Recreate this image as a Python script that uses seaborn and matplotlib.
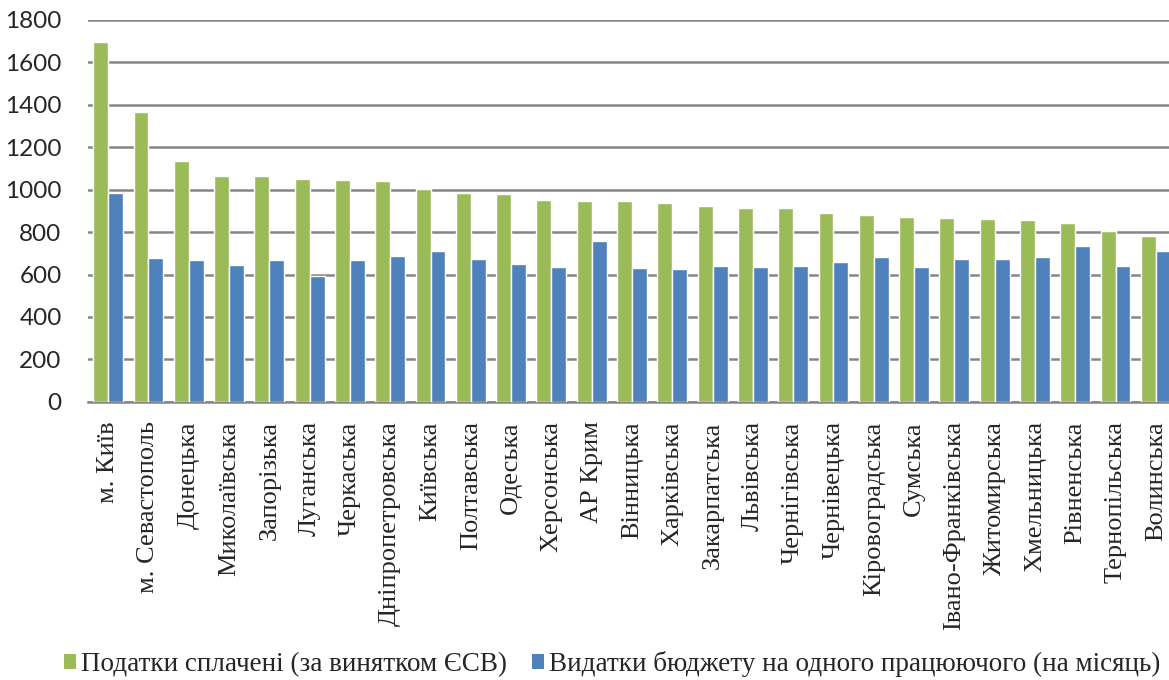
import pandas as pd
import matplotlib.pyplot as plt
import seaborn as sns
from matplotlib.patches import Patch

# --- DATA ---
regions = ['м. Київ', 'м. Севастополь', 'Донецька', 'Миколаївська', 'Запорізька',
           'Луганська', 'Черкаська', 'Дніпропетровська', 'Київська', 'Полтавська',
           'Одеська', 'Херсонська', 'АР Крим', 'Вінницька', 'Харківська',
           'Закарпатська', 'Львівська', 'Чернігівська', 'Чернівецька', 'Кіровоградська',
           'Сумська', 'Івано-Франківська', 'Житомирська', 'Хмельницька', 'Рівненська',
           'Тернопільська', 'Волинська']
taxes_paid = [1695, 1364, 1136, 1065, 1062, 1048, 1044, 1041, 1001, 982,
              979, 949, 946, 945, 938, 922, 912, 912, 891, 879,
              871, 868, 863, 858, 841, 803, 780]
budget_spend = [985, 676, 667, 645, 667, 593, 667, 687, 709, 673,
                651, 635, 759, 632, 626, 641, 634, 641, 657, 681,
                635, 674, 674, 681, 735, 638, 712]
series_names = ['Податки сплачені (за винятком ЄСВ)',
                'Видатки бюджету на одного працюючого (на місяць)']
colors = ['#9BBB59', '#4F81BD']

df = pd.DataFrame({'Region': regions * 2,
                   'Value': taxes_paid + budget_spend,
                   'Series': [series_names[0]] * len(regions) + [series_names[1]] * len(regions)})

sns.set_style("white")
plt.rcParams['figure.dpi'] = 100

fig = plt.figure(figsize=(11.69, 6.8))
# axes run past the right edge, as in the original (last bar is cut)
ax = fig.add_axes([88 / 1169, 0.409, 1088 / 1169, 0.5618])

sns.barplot(data=df, x='Region', y='Value', hue='Series', palette=colors,
            width=0.74, gap=0, saturation=1, legend=False, ax=ax, zorder=3)

ax.set_xlim(-0.5, len(regions) - 0.5)
ax.set_ylim(0, 1800)
ax.set_yticks(range(0, 1801, 200))
ax.yaxis.grid(True, color='#868686', linewidth=1.8, zorder=0)
ax.set_axisbelow(True)
for side in ['left', 'right', 'top']:
    ax.spines[side].set_visible(False)
ax.spines['bottom'].set_color('#868686')
ax.spines['bottom'].set_linewidth(1.8)

ax.tick_params(axis='y', length=0, pad=19)
ax.tick_params(axis='x', length=0, pad=14)
for lab in ax.get_yticklabels():
    lab.set_fontfamily('Lato')
    lab.set_fontsize(17.5)
ax.set_xticks(range(len(regions)))
ax.set_xticklabels(regions, rotation=90, fontfamily='Liberation Serif', fontsize=19, va='top')
ax.set_xlabel('')
ax.set_ylabel('')

handles = [Patch(facecolor=c, edgecolor='none') for c in colors]
fig.legend(handles, series_names, loc='center', bbox_to_anchor=(612 / 1169, 1 - 664 / 680),
           ncol=2, frameon=False, prop={'family': 'Liberation Serif', 'size': 19.5},
           handlelength=0.45, handleheight=0.45, handletextpad=0.2, columnspacing=0.9,
           borderpad=0, borderaxespad=0)

plt.savefig('out.png', dpi=100)
plt.close()
